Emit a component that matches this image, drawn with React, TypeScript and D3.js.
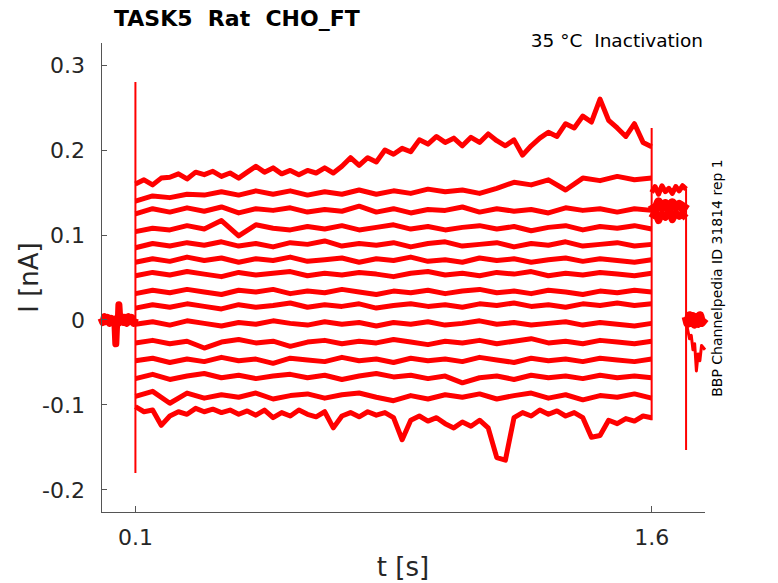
import React from 'react';
import * as d3 from 'd3';

// sampling times (s)
const coarseTimes = [0.1, 0.15, 0.2, 0.25, 0.3, 0.35, 0.4, 0.45, 0.5, 0.55, 0.6, 0.65, 0.7, 0.75, 0.8, 0.85, 0.9, 0.95, 1.0, 1.05, 1.1, 1.15, 1.2, 1.25, 1.3, 1.35, 1.4, 1.45, 1.5, 1.55, 1.6];
const fineTimes = [0.1, 0.125, 0.15, 0.175, 0.2, 0.225, 0.25, 0.275, 0.3, 0.325, 0.35, 0.375, 0.4, 0.425, 0.45, 0.475, 0.5, 0.525, 0.55, 0.575, 0.6, 0.625, 0.65, 0.675, 0.7, 0.725, 0.75, 0.775, 0.8, 0.825, 0.85, 0.875, 0.9, 0.925, 0.95, 0.975, 1.0, 1.025, 1.05, 1.075, 1.1, 1.125, 1.15, 1.175, 1.2, 1.225, 1.25, 1.275, 1.3, 1.325, 1.35, 1.375, 1.4, 1.425, 1.45, 1.475, 1.5, 1.525, 1.55, 1.575, 1.6];

// holding segment before the step
const preTimes = [0, 0.005, 0.01, 0.015, 0.02, 0.025, 0.03, 0.035, 0.04, 0.043, 0.046, 0.05, 0.052, 0.055, 0.06, 0.065, 0.07, 0.075, 0.08, 0.085, 0.09, 0.095, 0.1];
const preValues = [0.002, -0.003, 0.004, -0.002, 0.003, -0.004, 0.002, -0.003, 0.001, -0.028, 0.001, -0.004, 0.018, -0.002, 0.004, -0.003, 0.003, -0.004, 0.004, -0.002, 0.003, -0.004, 0.002];

// top trace (fine) and bottom trace (fine)
const traceTop = [0.160, 0.165, 0.159, 0.167, 0.168, 0.172, 0.166, 0.174, 0.171, 0.175, 0.169, 0.173, 0.167, 0.174, 0.181, 0.174, 0.179, 0.172, 0.176, 0.171, 0.176, 0.173, 0.179, 0.173, 0.181, 0.191, 0.182, 0.191, 0.186, 0.200, 0.195, 0.202, 0.198, 0.212, 0.207, 0.216, 0.209, 0.214, 0.205, 0.215, 0.209, 0.219, 0.211, 0.205, 0.212, 0.194, 0.205, 0.214, 0.221, 0.216, 0.231, 0.226, 0.240, 0.233, 0.260, 0.235, 0.226, 0.216, 0.231, 0.209, 0.204];
const traceBottom = [-0.102, -0.108, -0.106, -0.124, -0.113, -0.108, -0.111, -0.104, -0.108, -0.105, -0.109, -0.106, -0.111, -0.107, -0.112, -0.106, -0.115, -0.109, -0.113, -0.106, -0.111, -0.114, -0.108, -0.127, -0.113, -0.109, -0.114, -0.108, -0.112, -0.109, -0.115, -0.141, -0.118, -0.113, -0.119, -0.115, -0.122, -0.127, -0.120, -0.125, -0.118, -0.127, -0.162, -0.165, -0.115, -0.109, -0.113, -0.106, -0.111, -0.107, -0.113, -0.109, -0.115, -0.138, -0.136, -0.118, -0.122, -0.116, -0.119, -0.113, -0.115];

// middle traces (coarse), top to bottom
const trace2 = [0.140, 0.146, 0.144, 0.148, 0.147, 0.151, 0.147, 0.152, 0.148, 0.152, 0.147, 0.151, 0.148, 0.153, 0.148, 0.152, 0.149, 0.154, 0.151, 0.153, 0.149, 0.155, 0.162, 0.159, 0.165, 0.153, 0.167, 0.164, 0.169, 0.165, 0.167];
const trace3 = [0.125, 0.131, 0.127, 0.132, 0.128, 0.133, 0.126, 0.131, 0.129, 0.132, 0.127, 0.130, 0.128, 0.134, 0.127, 0.131, 0.126, 0.130, 0.129, 0.133, 0.127, 0.131, 0.128, 0.130, 0.126, 0.132, 0.129, 0.131, 0.127, 0.131, 0.129];
const trace4 = [0.104, 0.108, 0.106, 0.111, 0.107, 0.117, 0.099, 0.112, 0.108, 0.106, 0.110, 0.107, 0.111, 0.106, 0.109, 0.112, 0.107, 0.110, 0.106, 0.109, 0.111, 0.107, 0.110, 0.105, 0.109, 0.111, 0.106, 0.110, 0.108, 0.111, 0.107];
const trace5 = [0.085, 0.090, 0.087, 0.091, 0.088, 0.092, 0.087, 0.090, 0.086, 0.091, 0.089, 0.093, 0.087, 0.090, 0.088, 0.091, 0.086, 0.090, 0.092, 0.087, 0.089, 0.091, 0.086, 0.090, 0.088, 0.092, 0.087, 0.089, 0.091, 0.087, 0.089];
const trace6 = [0.068, 0.072, 0.069, 0.074, 0.070, 0.073, 0.068, 0.072, 0.070, 0.074, 0.069, 0.071, 0.073, 0.068, 0.072, 0.070, 0.074, 0.069, 0.071, 0.068, 0.073, 0.070, 0.072, 0.068, 0.071, 0.073, 0.069, 0.072, 0.070, 0.068, 0.071];
const trace7 = [0.052, 0.056, 0.053, 0.057, 0.054, 0.051, 0.056, 0.053, 0.055, 0.057, 0.052, 0.055, 0.053, 0.056, 0.054, 0.051, 0.055, 0.057, 0.053, 0.055, 0.052, 0.056, 0.054, 0.057, 0.052, 0.055, 0.053, 0.056, 0.054, 0.052, 0.055];
const trace8 = [0.031, 0.035, 0.032, 0.036, 0.033, 0.030, 0.035, 0.033, 0.036, 0.031, 0.034, 0.032, 0.036, 0.033, 0.030, 0.034, 0.032, 0.035, 0.031, 0.034, 0.036, 0.032, 0.034, 0.031, 0.035, 0.033, 0.030, 0.034, 0.032, 0.035, 0.033];
const trace9 = [0.014, 0.018, 0.015, 0.019, 0.016, 0.013, 0.018, 0.015, 0.017, 0.020, 0.015, 0.018, 0.016, 0.019, 0.014, 0.017, 0.019, 0.016, 0.018, 0.015, 0.019, 0.017, 0.020, 0.016, 0.018, 0.015, 0.019, 0.017, 0.020, 0.017, 0.019];
const trace10 = [-0.005, -0.002, -0.006, -0.001, -0.004, -0.007, -0.003, -0.005, -0.001, -0.004, -0.006, -0.002, -0.005, -0.003, -0.007, -0.003, -0.005, -0.002, -0.006, -0.004, -0.001, -0.005, -0.003, -0.006, -0.004, -0.002, -0.006, -0.003, -0.005, -0.007, -0.004];
const trace11 = [-0.027, -0.024, -0.028, -0.025, -0.033, -0.026, -0.023, -0.027, -0.025, -0.031, -0.026, -0.024, -0.028, -0.025, -0.027, -0.023, -0.026, -0.029, -0.025, -0.027, -0.024, -0.028, -0.025, -0.022, -0.027, -0.025, -0.028, -0.024, -0.026, -0.028, -0.025];
const trace12 = [-0.048, -0.045, -0.050, -0.046, -0.049, -0.044, -0.048, -0.046, -0.051, -0.045, -0.047, -0.049, -0.044, -0.048, -0.046, -0.050, -0.045, -0.048, -0.046, -0.049, -0.044, -0.047, -0.050, -0.045, -0.048, -0.046, -0.049, -0.045, -0.047, -0.049, -0.046];
const trace13 = [-0.069, -0.064, -0.070, -0.066, -0.063, -0.068, -0.065, -0.069, -0.066, -0.064, -0.068, -0.065, -0.070, -0.066, -0.063, -0.067, -0.065, -0.069, -0.066, -0.074, -0.068, -0.066, -0.070, -0.065, -0.068, -0.066, -0.069, -0.065, -0.068, -0.066, -0.068];
const trace14 = [-0.090, -0.084, -0.098, -0.086, -0.092, -0.088, -0.091, -0.086, -0.093, -0.089, -0.087, -0.092, -0.088, -0.086, -0.091, -0.095, -0.089, -0.093, -0.088, -0.091, -0.087, -0.093, -0.089, -0.086, -0.092, -0.088, -0.094, -0.089, -0.091, -0.087, -0.092];

// after the step, 1.6 - 1.7 s
const tailTimes = [1.6, 1.61, 1.62, 1.63, 1.64, 1.65, 1.66, 1.67, 1.68, 1.69, 1.7];
const tailHigh = [0.150, 0.157, 0.148, 0.158, 0.151, 0.155, 0.149, 0.157, 0.152, 0.158, 0.154];
const tailMid = [0.136, 0.129, 0.139, 0.132, 0.137, 0.130, 0.138, 0.133, 0.136, 0.131, 0.137];
const tailLow = [0.120, 0.127, 0.117, 0.125, 0.121, 0.128, 0.118, 0.126, 0.122, 0.124, 0.120];

// back to holding, 1.7 s onward
const endTimes = [1.7, 1.705, 1.71, 1.715, 1.72, 1.725, 1.73, 1.735, 1.74, 1.745, 1.755];
const endFlat = [0.004, -0.004, 0.005, -0.003, 0.004, -0.005, 0.003, -0.004, 0.005, -0.003, 0.002];
const endDip = [-0.004, -0.012, -0.022, -0.018, -0.035, -0.028, -0.06, -0.04, -0.048, -0.03, -0.035];

// capacitive transients: [time, top, bottom]
const spikes: [number, number, number][] = [
  [0.1, 0.28, -0.18],
  [1.6, 0.226, -0.118],
  [1.7, 0.155, -0.153],
];

const yTicks = [-0.2, -0.1, 0, 0.1, 0.2, 0.3];
const yTickLabels = ['-0.2', '-0.1', '0', '0.1', '0.2', '0.3'];
const xTicks = [0.1, 1.6];
const xTickLabels = ['0.1', '1.6'];

const RED = '#ff0000';
const AXIS = '#555555';
const TEXT = '#262626';
const FONT = 'DejaVu Sans, sans-serif';

const zip = (ts: number[], vs: number[]): [number, number][] =>
  vs.slice(0, ts.length).map((v, i) => [ts[i], v]);

export default function App() {
  const x = d3.scaleLinear().domain([0, 1.755]).range([101, 705]);
  const y = d3.scaleLinear().domain([-0.226, 0.326]).range([512, 43]);
  const line = d3.line<[number, number]>().x(d => x(d[0])).y(d => y(d[1]));

  const stepTraces: [number, number][][] = [
    zip(fineTimes, traceTop),
    ...[trace2, trace3, trace4, trace5, trace6, trace7, trace8, trace9, trace10, trace11, trace12, trace13, trace14].map(v => zip(coarseTimes, v)),
    zip(fineTimes, traceBottom),
  ];

  const left = x.range()[0];
  const right = x.range()[1];
  const bottom = y.range()[0];
  const top = y.range()[1];

  return (
    <svg width={778} height={583} style={{ position: 'absolute', left: 0, top: 0, background: '#fff' }}>
      <rect width={778} height={583} fill="#fff" />

      {/* traces */}
      <g fill="none" stroke={RED} strokeLinejoin="round">
        <path d={line(zip(preTimes, preValues)) || ''} strokeWidth={7} />
        {stepTraces.map((pts, i) => (
          <path key={i} d={line(pts) || ''} strokeWidth={5} />
        ))}
        <path d={line(zip(tailTimes, tailHigh)) || ''} strokeWidth={5} />
        <path d={line(zip(tailTimes, tailMid)) || ''} strokeWidth={9} />
        <path d={line(zip(tailTimes, tailLow)) || ''} strokeWidth={7} />
        <path d={line(zip(endTimes, endFlat)) || ''} strokeWidth={9} />
        <path d={line(zip(endTimes, endDip)) || ''} strokeWidth={3} />
        {spikes.map(([t, hi, lo], i) => (
          <line key={i} x1={x(t)} x2={x(t)} y1={y(hi)} y2={y(lo)} strokeWidth={2} />
        ))}
      </g>

      {/* axes */}
      <g stroke={AXIS} strokeWidth={1} shapeRendering="crispEdges">
        <line x1={left} x2={left} y1={top} y2={bottom} />
        <line x1={left} x2={right} y1={bottom} y2={bottom} />
        {yTicks.map(t => (
          <line key={t} x1={left} x2={left + 6} y1={y(t)} y2={y(t)} />
        ))}
        {xTicks.map(t => (
          <line key={t} x1={x(t)} x2={x(t)} y1={bottom} y2={bottom - 6} />
        ))}
      </g>

      <g fontFamily={FONT} fill={TEXT}>
        {yTicks.map((t, i) => (
          <text key={t} x={left - 16} y={y(t) + 8} fontSize={22} textAnchor="end">{yTickLabels[i]}</text>
        ))}
        {xTicks.map((t, i) => (
          <text key={t} x={x(t)} y={545} fontSize={22} textAnchor="middle">{xTickLabels[i]}</text>
        ))}
        <text x={(left + right) / 2} y={576} fontSize={26} textAnchor="middle">t [s]</text>
        <text transform={`translate(38,${y(0.05)}) rotate(-90)`} fontSize={26} textAnchor="middle">I [nA]</text>
      </g>

      <text x={114} y={26} fontFamily={FONT} fontSize={22} fontWeight="bold" fill="#000" xmlSpace="preserve">TASK5  Rat  CHO_FT</text>
      <text x={703} y={47} fontFamily={FONT} fontSize={18.5} fill="#000" textAnchor="end" xmlSpace="preserve">35 °C  Inactivation</text>
      <text transform="translate(722,278) rotate(-90)" fontFamily={FONT} fontSize={14} fill="#000" textAnchor="middle">BBP Channelpedia ID 31814 rep 1</text>
    </svg>
  );
}
